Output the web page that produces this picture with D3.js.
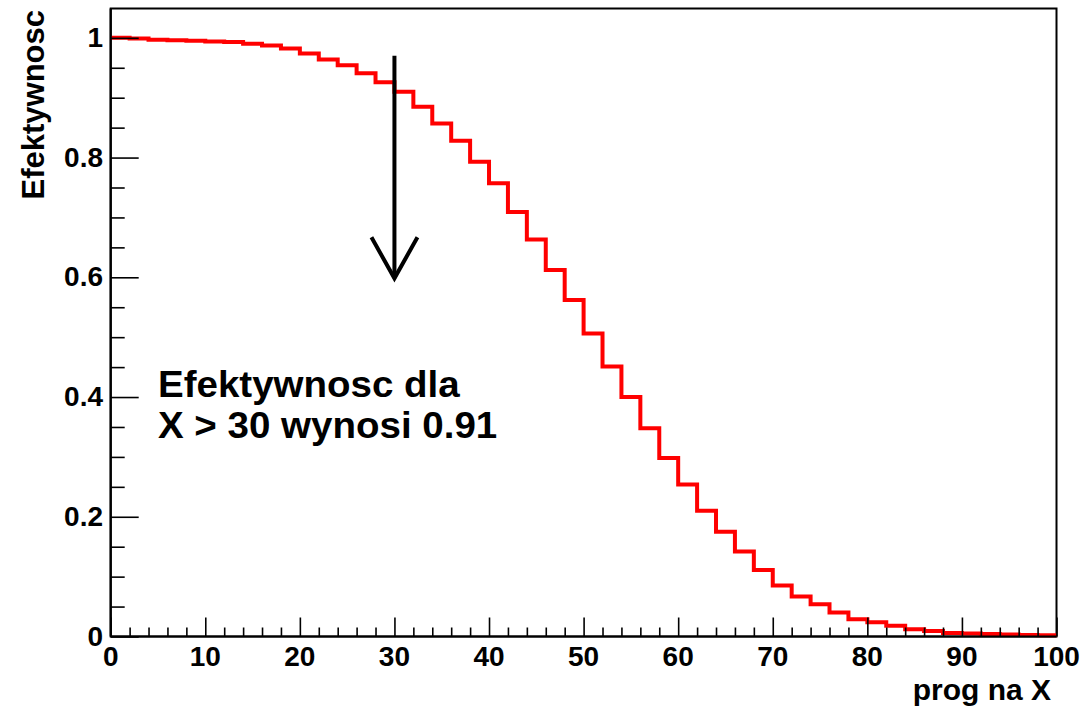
<!DOCTYPE html>
<html>
<head>
<meta charset="utf-8">
<script src="https://cdn.jsdelivr.net/npm/d3@7"></script>
<style>
  html, body { margin: 0; padding: 0; background: #fff; }
  svg { display: block; }
  text { font-family: "Liberation Sans", Arial, Helvetica, sans-serif; font-weight: bold; fill: #000; }
</style>
</head>
<body>
<svg id="chart" width="1087" height="707"></svg>
<script>
// Histogram binning: 50 bins on [0, 100]
const xMin = 0, xMax = 100, nBins = 50;
// Efficiency per bin (fraction of events passing a threshold at the bin's low edge)
const efficiency = [
  1.000, 0.999, 0.997, 0.996, 0.995, 0.994, 0.993, 0.990, 0.987, 0.982,
  0.974, 0.964, 0.954, 0.941, 0.926, 0.910, 0.885, 0.857, 0.828, 0.793,
  0.757, 0.709, 0.663, 0.612, 0.562, 0.506, 0.451, 0.400, 0.348, 0.298,
  0.254, 0.210, 0.175, 0.142, 0.111, 0.085, 0.067, 0.054, 0.040, 0.029,
  0.024, 0.018, 0.012, 0.009, 0.006, 0.005, 0.004, 0.0035, 0.0025, 0.002
];
const yMax = 1.049;
const xMajorTicks = [0, 10, 20, 30, 40, 50, 60, 70, 80, 90, 100];
const yMajorTicks = [0, 0.2, 0.4, 0.6, 0.8, 1];
const yTickLabels = ["0", "0.2", "0.4", "0.6", "0.8", "1"];
const xTitle = "prog na X";
const yTitle = "Efektywnosc";
// Arrow marking the chosen threshold
const arrowX = 30, arrowFrom = 0.97, arrowTo = 0.6;
// Annotation text
const noteLines = ["Efektywnosc dla", "X > 30 wynosi 0.91"];
const noteX = 5, noteY = 0.4;

const svg = d3.select("#chart");
const frame = { left: 110.7, right: 1056.5, top: 8.5, bottom: 636.5 };

const x = d3.scaleLinear().domain([xMin, xMax]).range([frame.left, frame.right]);
const y = d3.scaleLinear().domain([0, yMax]).range([frame.bottom, frame.top]);

// Frame
svg.append("rect")
  .attr("x", frame.left).attr("y", frame.top)
  .attr("width", frame.right - frame.left).attr("height", frame.bottom - frame.top)
  .attr("fill", "none").attr("stroke", "#000").attr("stroke-width", 2);

// Histogram outline as a step line
const binW = (xMax - xMin) / nBins;
const pts = [];
efficiency.forEach((v, i) => {
  pts.push([xMin + i * binW, v]);
  pts.push([xMin + (i + 1) * binW, v]);
});
svg.append("path")
  .datum(pts)
  .attr("d", d3.line().x(d => x(d[0])).y(d => y(d[1])))
  .attr("fill", "none")
  .attr("stroke", "#ff0000")
  .attr("stroke-width", 4)
  .attr("stroke-linejoin", "miter");

// X axis: ticks drawn inward (upward), major every 10, minor every 2
const xAxis = svg.append("g").attr("transform", `translate(0,${frame.bottom})`);
xAxis.call(d3.axisTop(x).tickValues(d3.range(xMin, xMax + 0.001, 2)).tickSize(9).tickFormat(""));
xAxis.call(g => g.selectAll(".tick").filter(d => xMajorTicks.includes(Math.round(d))).select("line").attr("y2", -19));
xAxis.select(".domain").remove();
xAxis.selectAll(".tick line").attr("stroke", "#000").attr("stroke-width", 1.6);
svg.append("line").attr("x1", frame.left).attr("x2", frame.right).attr("y1", frame.bottom).attr("y2", frame.bottom)
  .attr("stroke", "#000").attr("stroke-width", 2.2);
svg.append("g").selectAll("text").data(xMajorTicks).join("text")
  .attr("x", d => x(d)).attr("y", 666)
  .attr("text-anchor", "middle")
  .attr("font-size", 28)
  .text(d => d);

// Y axis: ticks drawn inward (rightward), major every 0.2, minor every 0.05
const yAxis = svg.append("g").attr("transform", `translate(${frame.left},0)`);
const yMinor = d3.range(0, 21).map(k => k * 0.05);
yAxis.call(d3.axisRight(y).tickValues(yMinor).tickSize(14).tickFormat(""));
yAxis.call(g => g.selectAll(".tick").filter((d, i) => i % 4 === 0).select("line").attr("x2", 28));
yAxis.select(".domain").remove();
yAxis.selectAll(".tick line").attr("stroke", "#000").attr("stroke-width", 1.6);
svg.append("line").attr("x1", frame.left).attr("x2", frame.left).attr("y1", frame.top).attr("y2", frame.bottom)
  .attr("stroke", "#000").attr("stroke-width", 2.2);
svg.append("g").selectAll("text").data(yMajorTicks).join("text")
  .attr("x", 103).attr("y", d => y(d) + 9)
  .attr("text-anchor", "end")
  .attr("font-size", 28)
  .text((d, i) => yTickLabels[i]);

// Axis titles
svg.append("text")
  .attr("x", 1051).attr("y", 700)
  .attr("text-anchor", "end")
  .attr("font-size", 30)
  .text(xTitle);
svg.append("text")
  .attr("transform", "translate(44,10) rotate(-90)")
  .attr("text-anchor", "end")
  .attr("font-size", 31)
  .text(yTitle);

// Arrow
const ax = x(arrowX), ay1 = y(arrowFrom), ay2 = y(arrowTo);
svg.append("line")
  .attr("x1", ax).attr("x2", ax).attr("y1", ay1).attr("y2", ay2 + 1)
  .attr("stroke", "#000").attr("stroke-width", 4);
svg.append("path")
  .attr("d", `M${ax - 23},${ay2 - 40} L${ax},${ay2 + 1} L${ax + 23},${ay2 - 40}`)
  .attr("fill", "none").attr("stroke", "#000").attr("stroke-width", 4)
  .attr("stroke-linejoin", "miter");

// Annotation (slightly widened glyphs)
const note = svg.append("text")
  .attr("transform", `translate(${x(noteX)},${y(noteY)}) scale(1.07,1)`)
  .attr("font-size", 36);
noteLines.forEach((line, i) => {
  note.append("tspan")
    .attr("x", 0)
    .attr("dy", i === 0 ? 0 : 41)
    .text(line);
});
</script>
</body>
</html>
